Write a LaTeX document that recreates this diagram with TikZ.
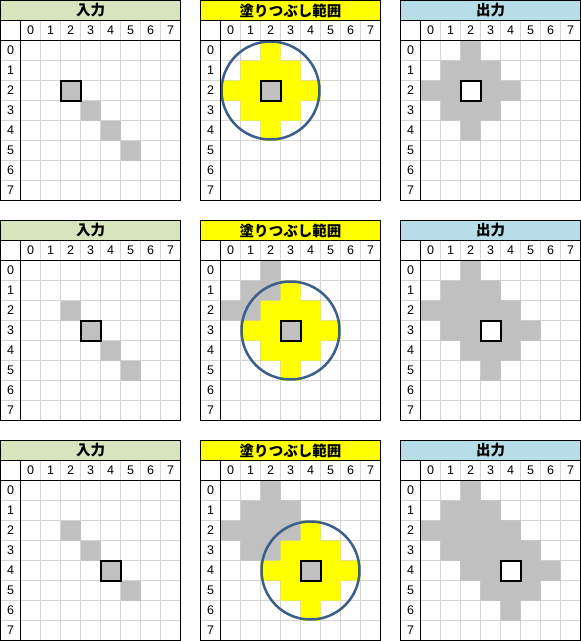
\documentclass[tikz,border=0pt]{standalone}
\usepackage{fontspec}
\setmainfont{Liberation Sans}
\newfontfamily\jpfont{Noto Sans CJK JP}
\definecolor{ttlgreen}{RGB}{216,228,188}
\definecolor{ttlyellow}{RGB}{255,255,0}
\definecolor{ttlblue}{RGB}{183,222,232}
\definecolor{cellgray}{RGB}{192,192,192}
\definecolor{gridgray}{RGB}{212,212,212}
\definecolor{rangeblue}{RGB}{58,95,139}
\definecolor{fillyellow}{RGB}{255,255,0}
\tikzset{
  gridline/.style={draw=gridgray, line width=1pt},
  frameline/.style={draw=black, line width=1pt},
  digit/.style={inner sep=0pt, font=\fontsize{12.5}{13}\selectfont},
  ttl/.style={inner sep=0pt, font=\jpfont\bfseries\fontsize{14.5}{14.5}\selectfont},
  markbox/.style={draw=black, line width=2pt},
  rangecircle/.style={draw=rangeblue, line width=2.5pt},
}
% #1 name, #2 X, #3 Y, #4 title colour, #5 title, #6 content
\newcommand\panel[6]{%
  \begin{scope}[shift={(#2+20,#3+40)}, x=20pt, y=-20pt]
    \fill[white] (-1,-2) rectangle (8,8);
    \fill[#4] (-1,-2) rectangle (8,-1);
    \foreach \i in {1,...,7} {
      \draw[gridline] (\i,-1) -- (\i,8);
      \draw[gridline] (-1,\i) -- (8,\i);
    }
    #6
    \draw[frameline] (-1,-2) rectangle (8,8);
    \draw[frameline] (-1,-1) -- (8,-1);
    \draw[frameline] (-1,0) -- (8,0);
    \draw[frameline] (0,-1) -- (0,8);
    \node[ttl] (#1-title) at (3.5,-1.5) {#5};
    \foreach \i in {0,...,7} {
      \node[digit] (#1-h\i) at (\i+0.5,-0.5) {\i};
      \node[digit] (#1-r\i) at (-0.5,\i+0.5) {\i};
    }
  \end{scope}
}
\newcommand\cellfill[3]{\fill[#3] (#1,#2) rectangle ++(1,1);}
\newcommand\diamondcells[3]{%
  \fill[#3] (#1,#2-2) -- ++(1,0) -- ++(0,1) -- ++(1,0) -- ++(0,1) -- ++(1,0)
    -- ++(0,1) -- ++(-1,0) -- ++(0,1) -- ++(-1,0) -- ++(0,1) -- ++(-1,0)
    -- ++(0,-1) -- ++(-1,0) -- ++(0,-1) -- ++(-1,0) -- ++(0,-1) -- ++(1,0)
    -- ++(0,-1) -- ++(1,0) -- cycle;}
\newcommand\markcell[1]{\draw[markbox] (#1,#1) rectangle ++(1,1);}
\newcommand\rangering[1]{\draw[rangecircle] (#1+0.5,#1+0.5) circle[radius=49pt];}
\newcommand\inputcells{\cellfill{2}{2}{cellgray}\cellfill{3}{3}{cellgray}\cellfill{4}{4}{cellgray}\cellfill{5}{5}{cellgray}}
\begin{document}
\begin{tikzpicture}[x=1pt,y=-1pt]
\useasboundingbox (0,0) rectangle (581,641);
% row 1
\panel{inA}{0.5}{0.5}{ttlgreen}{入力}{\inputcells\markcell{2}}
\panel{flA}{200.5}{0.5}{ttlyellow}{塗りつぶし範囲}{\diamondcells{2}{2}{fillyellow}\cellfill{2}{2}{cellgray}\markcell{2}\rangering{2}}
\panel{outA}{400.5}{0.5}{ttlblue}{出力}{\diamondcells{2}{2}{cellgray}\cellfill{2}{2}{white}\markcell{2}}
% row 2
\panel{inB}{0.5}{220.5}{ttlgreen}{入力}{\inputcells\markcell{3}}
\panel{flB}{200.5}{220.5}{ttlyellow}{塗りつぶし範囲}{\diamondcells{2}{2}{cellgray}\diamondcells{3}{3}{fillyellow}\cellfill{3}{3}{cellgray}\markcell{3}\rangering{3}}
\panel{outB}{400.5}{220.5}{ttlblue}{出力}{\diamondcells{2}{2}{cellgray}\diamondcells{3}{3}{cellgray}\cellfill{3}{3}{white}\markcell{3}}
% row 3
\panel{inC}{0.5}{440.5}{ttlgreen}{入力}{\inputcells\markcell{4}}
\panel{flC}{200.5}{440.5}{ttlyellow}{塗りつぶし範囲}{\diamondcells{2}{2}{cellgray}\diamondcells{3}{3}{cellgray}\diamondcells{4}{4}{fillyellow}\cellfill{4}{4}{cellgray}\markcell{4}\rangering{4}}
\panel{outC}{400.5}{440.5}{ttlblue}{出力}{\diamondcells{2}{2}{cellgray}\diamondcells{3}{3}{cellgray}\diamondcells{4}{4}{cellgray}\cellfill{4}{4}{white}\markcell{4}}
\end{tikzpicture}
\end{document}
